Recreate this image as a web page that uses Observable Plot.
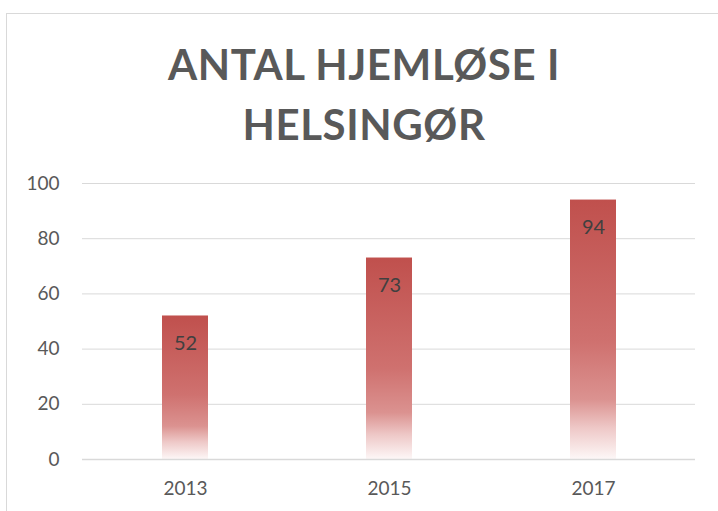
<!DOCTYPE html>
<html><head><meta charset="utf-8">
<script src="https://cdn.jsdelivr.net/npm/d3@7"></script>
<script src="https://cdn.jsdelivr.net/npm/@observablehq/plot@0.6"></script>
<style>
html,body{margin:0;padding:0;background:#fff;overflow:hidden;width:718px;height:511px;}
#wrap{position:relative;width:718px;height:511px;}
#frame{position:absolute;left:6px;top:13px;width:800px;height:600px;border:1px solid #d9d9d9;box-sizing:border-box;}
#title{position:absolute;left:6px;width:716px;top:34px;text-align:center;font-family:Lato,"Open Sans",sans-serif;font-weight:bold;font-size:42px;letter-spacing:0.6px;line-height:60px;color:#595959;}
#chart{position:absolute;left:0;top:0;}
</style></head>
<body>
<div id="wrap"><div id="frame"></div><div id="title">ANTAL HJEMLØSE I<br>HELSINGØR</div><div id="chart"></div></div>
<script>
const years = ["2013", "2015", "2017"];
const values = [52, 73, 94];
const yTicks = [0, 20, 40, 60, 80, 100];

const data = years.map((y, i) => ({year: y, value: values[i]}));

const plot = Plot.plot({
  width: 718,
  height: 511,
  marginTop: 183,
  marginBottom: 52,
  marginLeft: 82,
  marginRight: 23,
  style: {background: "transparent", fontFamily: "Lato, 'Open Sans', sans-serif", fontSize: "19px", color: "#595959"},
  x: {domain: years, paddingInner: 0.775, paddingOuter: 0.3875, label: null, tickSize: 0, tickPadding: 22},
  y: {domain: [0, 100], ticks: yTicks, label: null, tickSize: 0, tickPadding: 23},
  marks: [
    Plot.gridY(yTicks, {stroke: "#d9d9d9", strokeOpacity: 1}),
    Plot.barY(data, {x: "year", y: "value", fill: "url(#barGrad)"}),
    Plot.ruleY([0], {stroke: "#d9d9d9", strokeWidth: 1.5}),
    Plot.text(data, {x: "year", y: "value", text: d => String(d.value), dy: 28, fill: "#404040", fontSize: 20})
  ]
});

const svg = d3.select(plot);
const defs = svg.insert("defs", ":first-child");
const g = defs.append("linearGradient").attr("id", "barGrad").attr("x1", 0).attr("y1", 0).attr("x2", 0).attr("y2", 1);
[[0, "#c0504d"], [0.55, "#cf716f"], [0.77, "#db9290"], [0.88, "#eec8c7"], [1, "#fdf7f7"]].forEach(([o, c]) => {
  g.append("stop").attr("offset", o).attr("stop-color", c);
});
document.getElementById("chart").appendChild(plot);
</script>
</body></html>
